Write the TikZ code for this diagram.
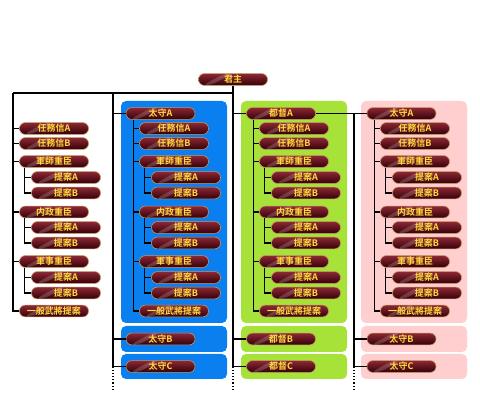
\documentclass[tikz,border=0pt]{standalone}
\usepackage{fontspec}
\usepackage{tikz}
\newfontfamily\cjk[BoldFont={Noto Sans CJK TC Bold}]{Noto Sans CJK TC}
\definecolor{pilltop}{RGB}{140,40,52}
\definecolor{pillbot}{RGB}{52,0,8}
\definecolor{pillrim}{RGB}{196,150,96}
\definecolor{pilltext}{RGB}{255,218,60}
\definecolor{boxblue}{RGB}{10,128,240}
\definecolor{boxgreen}{RGB}{166,226,56}
\definecolor{boxpink}{RGB}{255,206,206}
\tikzset{pill/.style = {rounded corners=5.8pt, minimum width=69, minimum height=11.8, inner sep=0,
    top color=pilltop, bottom color=pillbot, draw=pillrim, line width=0.6pt,
    text=pilltext, font=\cjk\bfseries\fontsize{9}{9}\selectfont,
    path picture={\fill[white, opacity=0.18] ([xshift=4pt]path picture bounding box.south west)
      -- ([xshift=26pt]path picture bounding box.north west) -- ([xshift=34pt]path picture bounding box.north west)
      -- ([xshift=12pt]path picture bounding box.south west) -- cycle;}},
  colbox/.style = {rounded corners=5pt}}

\begin{document}
\begin{tikzpicture}[x=1pt, y=-1pt, line width=1.2pt]
    \useasboundingbox[fill=white] (0,0) rectangle (480,403);

    \fill[colbox, boxblue] (121,101) rectangle (227,323);
    \fill[colbox, boxblue] (121,326) rectangle (227,352);
    \fill[colbox, boxblue] (121,354) rectangle (227,379);
    \fill[colbox, boxgreen] (241,101) rectangle (347,323);
    \fill[colbox, boxgreen] (241,326) rectangle (347,352);
    \fill[colbox, boxgreen] (241,354) rectangle (347,379);
    \fill[colbox, boxpink] (361,101) rectangle (467,323);
    \fill[colbox, boxpink] (361,326) rectangle (467,352);
    \fill[colbox, boxpink] (361,354) rectangle (467,379);

    \node[pill] (king) at (233,79.5) {君主};

    \node[pill] (Lra) at (54,128.5) {任務信A};
    \node[pill] (Lrb) at (54,143.5) {任務信B};
    \node[pill] (Lgs) at (54,161.5) {軍師重臣};
    \node[pill] (Lgsa) at (66,177.5) {提案A};
    \node[pill] (Lgsb) at (66,193) {提案B};
    \node[pill] (Lnp) at (54,212) {内政重臣};
    \node[pill] (Lnpa) at (66,227.5) {提案A};
    \node[pill] (Lnpb) at (66,243) {提案B};
    \node[pill] (Lgj) at (54,261.5) {軍事重臣};
    \node[pill] (Lgja) at (66,277.5) {提案A};
    \node[pill] (Lgjb) at (66,293) {提案B};
    \node[pill] (Lip) at (54,311) {一般武將提案};

    \node[pill] (Bk) at (160.5,113.5) {太守A};
    \node[pill] (Bra) at (174,128.5) {任務信A};
    \node[pill] (Brb) at (174,143.5) {任務信B};
    \node[pill] (Bgs) at (174,161.5) {軍師重臣};
    \node[pill] (Bgsa) at (186,177.5) {提案A};
    \node[pill] (Bgsb) at (186,193) {提案B};
    \node[pill] (Bnp) at (174,212) {内政重臣};
    \node[pill] (Bnpa) at (186,227.5) {提案A};
    \node[pill] (Bnpb) at (186,243) {提案B};
    \node[pill] (Bgj) at (174,261.5) {軍事重臣};
    \node[pill] (Bgja) at (186,277.5) {提案A};
    \node[pill] (Bgjb) at (186,293) {提案B};
    \node[pill] (Bip) at (174,311) {一般武將提案};
    \node[pill] (Bb) at (160.5,339) {太守B};
    \node[pill] (Bc) at (160.5,366.5) {太守C};

    \node[pill] (Gk) at (281,113.5) {都督A};
    \node[pill] (Gra) at (294,128.5) {任務信A};
    \node[pill] (Grb) at (294,143.5) {任務信B};
    \node[pill] (Ggs) at (294,161.5) {軍師重臣};
    \node[pill] (Ggsa) at (306,177.5) {提案A};
    \node[pill] (Ggsb) at (306,193) {提案B};
    \node[pill] (Gnp) at (294,212) {内政重臣};
    \node[pill] (Gnpa) at (306,227.5) {提案A};
    \node[pill] (Gnpb) at (306,243) {提案B};
    \node[pill] (Ggj) at (294,261.5) {軍事重臣};
    \node[pill] (Ggja) at (306,277.5) {提案A};
    \node[pill] (Ggjb) at (306,293) {提案B};
    \node[pill] (Gip) at (294,311) {一般武將提案};
    \node[pill] (Gb) at (281,339) {都督B};
    \node[pill] (Gc) at (281,366.5) {都督C};

    \node[pill] (Pk) at (401.5,113.5) {太守A};
    \node[pill] (Pra) at (415,128.5) {任務信A};
    \node[pill] (Prb) at (415,143.5) {任務信B};
    \node[pill] (Pgs) at (415,161.5) {軍師重臣};
    \node[pill] (Pgsa) at (427,177.5) {提案A};
    \node[pill] (Pgsb) at (427,193) {提案B};
    \node[pill] (Pnp) at (415,212) {内政重臣};
    \node[pill] (Pnpa) at (427,227.5) {提案A};
    \node[pill] (Pnpb) at (427,243) {提案B};
    \node[pill] (Pgj) at (415,261.5) {軍事重臣};
    \node[pill] (Pgja) at (427,277.5) {提案A};
    \node[pill] (Pgjb) at (427,293) {提案B};
    \node[pill] (Pip) at (415,311) {一般武將提案};
    \node[pill] (Pb) at (401.5,339) {太守B};
    \node[pill] (Pc) at (401.5,366.5) {太守C};

    % main lines
    \coordinate (Ltop) at (13,93);
    \coordinate (Btop) at (113,93);
    \coordinate (Ptop) at (354,113.5);
    \draw (Ltop) -- (king.south |- Ltop);
    \draw (king.south) |- (Gc.west);
    \draw (king.south |- Gk.west) -- (Gk.west);
    \draw (king.south |- Gb.west) -- (Gb.west);
    \draw[dotted] (king.south |- Gc.west) -- ++(0,24);
    \draw (Btop) |- (Bc.west);
    \draw (Btop |- Bk.west) -- (Bk.west);
    \draw (Btop |- Bb.west) -- (Bb.west);
    \draw[dotted] (Btop |- Bc.west) -- ++(0,24);
    \draw (Gk.east) -- (Pk.west);
    \draw (Ptop) |- (Pc.west);
    \draw (Ptop |- Pb.west) -- (Pb.west);
    \draw[dotted] (Ptop |- Pc.west) -- ++(0,24);

    % left column
    \draw (Ltop) |- (Lip.west);
    \draw (Ltop |- Lra.west) -- (Lra.west);
    \draw (Ltop |- Lrb.west) -- (Lrb.west);
    \draw (Ltop |- Lgs.west) -- (Lgs.west);
    \draw (Ltop |- Lnp.west) -- (Lnp.west);
    \draw (Ltop |- Lgj.west) -- (Lgj.west);
    \draw ([xshift=-7pt]Lgsa.west |- Lgs.south) |- (Lgsb.west);
    \draw ([xshift=-7pt]Lgsa.west) -- (Lgsa.west);
    \draw ([xshift=-7pt]Lnpa.west |- Lnp.south) |- (Lnpb.west);
    \draw ([xshift=-7pt]Lnpa.west) -- (Lnpa.west);
    \draw ([xshift=-7pt]Lgja.west |- Lgj.south) |- (Lgjb.west);
    \draw ([xshift=-7pt]Lgja.west) -- (Lgja.west);

    % blue column
    \draw ([xshift=-6pt]Bra.west |- Bk.south) |- (Bip.west);
    \draw ([xshift=-6pt]Bra.west) -- (Bra.west);
    \draw ([xshift=-6pt]Brb.west) -- (Brb.west);
    \draw ([xshift=-6pt]Bgs.west) -- (Bgs.west);
    \draw ([xshift=-6pt]Bnp.west) -- (Bnp.west);
    \draw ([xshift=-6pt]Bgj.west) -- (Bgj.west);
    \draw ([xshift=-7pt]Bgsa.west |- Bgs.south) |- (Bgsb.west);
    \draw ([xshift=-7pt]Bgsa.west) -- (Bgsa.west);
    \draw ([xshift=-7pt]Bnpa.west |- Bnp.south) |- (Bnpb.west);
    \draw ([xshift=-7pt]Bnpa.west) -- (Bnpa.west);
    \draw ([xshift=-7pt]Bgja.west |- Bgj.south) |- (Bgjb.west);
    \draw ([xshift=-7pt]Bgja.west) -- (Bgja.west);

    % green column
    \draw ([xshift=-6pt]Gra.west |- Gk.south) |- (Gip.west);
    \draw ([xshift=-6pt]Gra.west) -- (Gra.west);
    \draw ([xshift=-6pt]Grb.west) -- (Grb.west);
    \draw ([xshift=-6pt]Ggs.west) -- (Ggs.west);
    \draw ([xshift=-6pt]Gnp.west) -- (Gnp.west);
    \draw ([xshift=-6pt]Ggj.west) -- (Ggj.west);
    \draw ([xshift=-7pt]Ggsa.west |- Ggs.south) |- (Ggsb.west);
    \draw ([xshift=-7pt]Ggsa.west) -- (Ggsa.west);
    \draw ([xshift=-7pt]Gnpa.west |- Gnp.south) |- (Gnpb.west);
    \draw ([xshift=-7pt]Gnpa.west) -- (Gnpa.west);
    \draw ([xshift=-7pt]Ggja.west |- Ggj.south) |- (Ggjb.west);
    \draw ([xshift=-7pt]Ggja.west) -- (Ggja.west);

    % pink column
    \draw ([xshift=-6pt]Pra.west |- Pk.south) |- (Pip.west);
    \draw ([xshift=-6pt]Pra.west) -- (Pra.west);
    \draw ([xshift=-6pt]Prb.west) -- (Prb.west);
    \draw ([xshift=-6pt]Pgs.west) -- (Pgs.west);
    \draw ([xshift=-6pt]Pnp.west) -- (Pnp.west);
    \draw ([xshift=-6pt]Pgj.west) -- (Pgj.west);
    \draw ([xshift=-7pt]Pgsa.west |- Pgs.south) |- (Pgsb.west);
    \draw ([xshift=-7pt]Pgsa.west) -- (Pgsa.west);
    \draw ([xshift=-7pt]Pnpa.west |- Pnp.south) |- (Pnpb.west);
    \draw ([xshift=-7pt]Pnpa.west) -- (Pnpa.west);
    \draw ([xshift=-7pt]Pgja.west |- Pgj.south) |- (Pgjb.west);
    \draw ([xshift=-7pt]Pgja.west) -- (Pgja.west);
  \end{tikzpicture}
\end{document}
